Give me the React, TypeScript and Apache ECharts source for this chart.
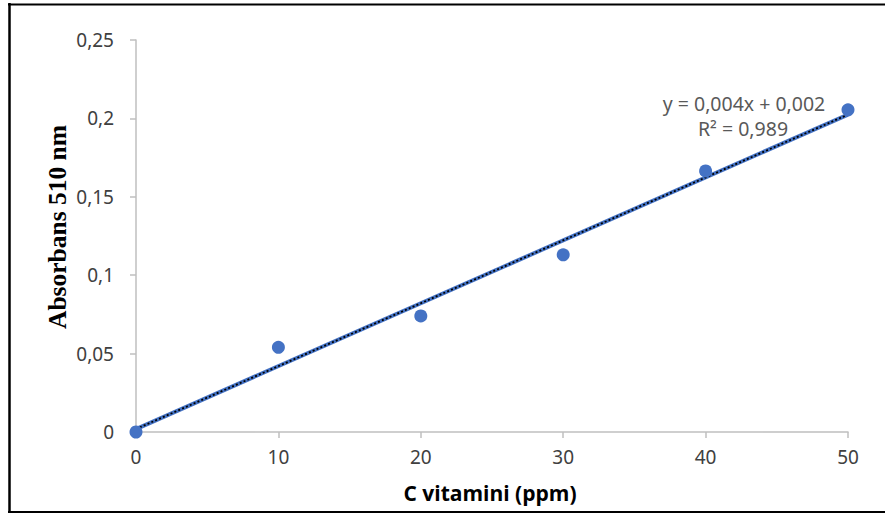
import React, { useEffect, useRef } from "react";
import * as echarts from "echarts";

const concentrations = [0, 10, 20, 30, 40, 50];
const absorbances = [0, 0.054, 0.074, 0.113, 0.1665, 0.2055];
const yTickLabels = ["0", "0,05", "0,1", "0,15", "0,2", "0,25"];
const xTickLabels = ["0", "10", "20", "30", "40", "50"];
const equationText = "y = 0,004x + 0,002";
const r2Text = "R² = 0,989";
const xTitle = "C vitamini (ppm)";
const yTitle = "Absorbans 510 nm";

function fitLine(xs: number[], ys: number[]) {
  const n = xs.length;
  const mx = xs.reduce((a, b) => a + b, 0) / n;
  const my = ys.reduce((a, b) => a + b, 0) / n;
  let sxy = 0;
  let sxx = 0;
  for (let i = 0; i < n; i++) {
    sxy += (xs[i] - mx) * (ys[i] - my);
    sxx += (xs[i] - mx) * (xs[i] - mx);
  }
  const slope = sxy / sxx;
  return { slope, intercept: my - slope * mx };
}

export default function App() {
  const ref = useRef<HTMLDivElement>(null);
  useEffect(() => {
    if (!ref.current) return;
    const chart = echarts.init(ref.current, null, { renderer: "svg" });
    const { slope, intercept } = fitLine(concentrations, absorbances);
    const xMin = concentrations[0];
    const xMax = concentrations[concentrations.length - 1];
    const trend = [
      [xMin, intercept + slope * xMin],
      [xMax, intercept + slope * xMax],
    ];
    const labelFont = "'Noto Sans', 'Open Sans', sans-serif";
    chart.setOption({
      animation: false,
      backgroundColor: "#ffffff",
      grid: { left: 136, right: 37, top: 40, bottom: 83, containLabel: false },
      xAxis: {
        type: "value",
        min: 0,
        max: 50,
        interval: 10,
        splitLine: { show: false },
        axisLine: { show: true, onZero: false, lineStyle: { color: "#bfbfbf", width: 1.5 } },
        axisTick: { show: true, length: 6, lineStyle: { color: "#bfbfbf", width: 1.5 } },
        axisLabel: {
          margin: 15,
          color: "#404040",
          fontSize: 19,
          fontFamily: labelFont,
          formatter: (v: number) => xTickLabels[Math.round(v / 10)] ?? String(v),
        },
      },
      yAxis: {
        type: "value",
        min: 0,
        max: 0.25,
        interval: 0.05,
        splitLine: { show: false },
        axisLine: { show: true, lineStyle: { color: "#bfbfbf", width: 1.5 } },
        axisTick: { show: true, length: 6, lineStyle: { color: "#bfbfbf", width: 1.5 } },
        axisLabel: {
          margin: 22,
          color: "#404040",
          fontSize: 19,
          fontFamily: labelFont,
          formatter: (v: number) => yTickLabels[Math.round(v / 0.05)] ?? String(v),
        },
      },
      series: [
        {
          type: "line",
          data: trend,
          symbol: "none",
          lineStyle: { color: "#4472C4", width: 4 },
          z: 2,
        },
        {
          type: "line",
          data: trend,
          symbol: "none",
          lineStyle: { color: "#000000", width: 1.8, type: [2, 2.2] },
          z: 3,
        },
        {
          type: "scatter",
          data: concentrations.map((x, i) => [x, absorbances[i]]),
          symbol: "circle",
          symbolSize: 13,
          itemStyle: { color: "#4472C4", opacity: 1 },
          z: 4,
        },
      ],
      graphic: [
        { type: "line", shape: { x1: 9.5, y1: 3, x2: 9.5, y2: 513 }, style: { stroke: "#000", lineWidth: 2.5 } },
        { type: "line", shape: { x1: 8, y1: 4.5, x2: 885, y2: 4.5 }, style: { stroke: "#000", lineWidth: 2 } },
        { type: "line", shape: { x1: 8, y1: 512, x2: 885, y2: 512 }, style: { stroke: "#000", lineWidth: 2 } },
        {
          type: "text",
          x: 744,
          y: 103,
          style: {
            text: equationText,
            fill: "#595959",
            fontSize: 19.5,
            fontFamily: labelFont,
            textAlign: "center",
            textVerticalAlign: "middle",
          },
        },
        {
          type: "text",
          x: 743,
          y: 128,
          style: {
            text: r2Text,
            fill: "#595959",
            fontSize: 19.5,
            fontFamily: labelFont,
            textAlign: "center",
            textVerticalAlign: "middle",
          },
        },
        {
          type: "text",
          x: 490,
          y: 493,
          style: {
            text: xTitle,
            fill: "#000000",
            fontSize: 21,
            fontWeight: "bold",
            fontFamily: "'Open Sans', 'Noto Sans', sans-serif",
            textAlign: "center",
            textVerticalAlign: "middle",
          },
        },
        {
          type: "text",
          x: 57,
          y: 227,
          rotation: Math.PI / 2,
          style: {
            text: yTitle,
            fill: "#000000",
            fontSize: 25.5,
            fontWeight: "bold",
            fontFamily: "'Liberation Serif', 'DejaVu Serif', serif",
            textAlign: "center",
            textVerticalAlign: "middle",
          },
        },
      ],
    });
    return () => chart.dispose();
  }, []);
  return (
    <div
      ref={ref}
      style={{ position: "fixed", left: 0, top: 0, width: 885, height: 515 }}
    />
  );
}
